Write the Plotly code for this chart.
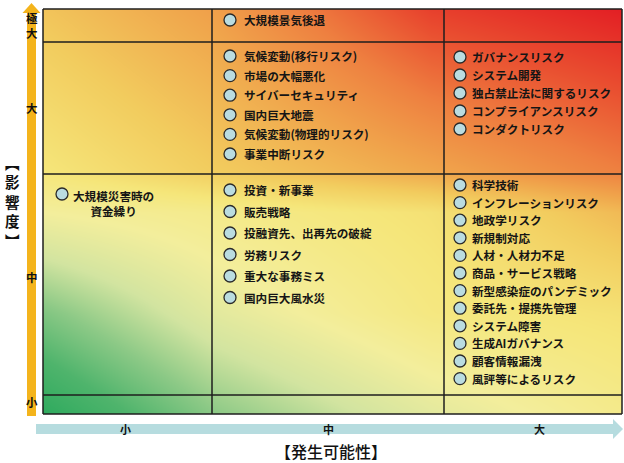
import plotly.graph_objects as go

# risk map: impact (rows) x likelihood (columns)
impact_levels = ["極大", "大", "中", "小"]
likelihood_levels = ["小", "中", "大"]

risks_extreme_mid = ["大規模景気後退"]
risks_high_mid = ["気候変動(移行リスク)", "市場の大幅悪化", "サイバーセキュリティ",
                  "国内巨大地震", "気候変動(物理的リスク)", "事業中断リスク"]
risks_high_high = ["ガバナンスリスク", "システム開発", "独占禁止法に関するリスク",
                   "コンプライアンスリスク", "コンダクトリスク"]
risks_mid_low = ["大規模災害時の<br>資金繰り"]
risks_mid_mid = ["投資・新事業", "販売戦略", "投融資先、出再先の破綻",
                 "労務リスク", "重大な事務ミス", "国内巨大風水災"]
risks_mid_high = ["科学技術", "インフレーションリスク", "地政学リスク", "新規制対応",
                  "人材・人材力不足", "商品・サービス戦略", "新型感染症のパンデミック",
                  "委託先・提携先管理", "システム障害", "生成AIガバナンス",
                  "顧客情報漏洩", "風評等によるリスク"]

# (row, col, items, first offset, spacing)
cells = [
    (0, 1, risks_extreme_mid, 11, 19),
    (1, 1, risks_high_mid, 14, 19.6),
    (1, 2, risks_high_high, 15, 18),
    (2, 0, risks_mid_low, 20, 18),
    (2, 1, risks_mid_mid, 16, 21.5),
    (2, 2, risks_mid_high, 11, 17.6),
]

W, H = 624, 463
col_edges = [43, 212, 444, 622]
row_edges = [9, 42, 174, 395, 414]
marker_dx = [19, 18, 16]
text_dx = [9, 12, 10]

# background colour field (0 green .. 0.5 yellow .. 1 red)
bg_u = [0, 0.3, 0.67, 1]
bg_v = [0, 0.25, 0.5, 0.6, 1]
bg_z = [
    [0.0, 0.2, 0.35, 0.45],
    [0.18, 0.35, 0.48, 0.52],
    [0.4, 0.45, 0.52, 0.65],
    [0.5, 0.6, 0.7, 0.8],
    [0.62, 0.72, 0.93, 1.0],
]

FONT = "Noto Sans CJK JP"


def px(x):
    return (x - col_edges[0]) / (col_edges[-1] - col_edges[0])


def py(y):
    return (row_edges[-1] - y) / (row_edges[-1] - row_edges[0])


fig = go.Figure()

gx = [col_edges[0] + u * (col_edges[-1] - col_edges[0]) for u in bg_u]
gy = [row_edges[-1] - v * (row_edges[-1] - row_edges[0]) for v in bg_v]
fig.add_trace(go.Heatmap(
    x=gx, y=gy, z=bg_z,
    zmin=0, zmax=1, zsmooth="best", showscale=False, hoverinfo="skip",
    colorscale=[[0, "#2EAA5E"], [0.1, "#4FB46C"], [0.2, "#8CC986"], [0.3, "#D2E4A0"],
                [0.4, "#F3EE9C"], [0.5, "#F5E67A"], [0.6, "#F2CC5E"], [0.7, "#F0A64C"],
                [0.8, "#EE8040"], [0.9, "#E94E30"], [1, "#E31F24"]],
))

mx, my, ann = [], [], []
for r, c, items, first, step in cells:
    for i, name in enumerate(items):
        x = col_edges[c] + marker_dx[c]
        y = row_edges[r] + first + i * step
        mx.append(x)
        my.append(y)
        n = name.count("<br>")
        ann.append(dict(x=x + text_dx[c], y=y + n * 9, text=name, xref="x", yref="y",
                        xanchor="left", yanchor="middle", showarrow=False,
                        font=dict(family=FONT, size=11.6, color="#151515", weight=700)))

fig.add_trace(go.Scatter(
    x=mx, y=my, mode="markers", hoverinfo="skip",
    marker=dict(size=12, color="#BADCE0", line=dict(color="#2A2A2A", width=1.3)),
))

shapes = []
# grid
for x in col_edges:
    shapes.append(dict(type="line", xref="paper", yref="paper", x0=px(x), x1=px(x),
                       y0=py(row_edges[0]), y1=py(row_edges[-1]),
                       line=dict(color="#1E1E1E", width=1.5)))
for y in row_edges:
    shapes.append(dict(type="line", xref="paper", yref="paper", x0=px(col_edges[0]),
                       x1=px(col_edges[-1]), y0=py(y), y1=py(y),
                       line=dict(color="#1E1E1E", width=1.5)))

# impact arrow (vertical, orange)
shapes.append(dict(type="rect", xref="paper", yref="paper", x0=px(27), x1=px(36),
                   y0=py(13), y1=py(416), fillcolor="#F4B41C", line=dict(width=0)))
shapes.append(dict(type="path", xref="paper", yref="paper",
                   path=f"M {px(22.5)},{py(13)} L {px(31.5)},{py(3)} L {px(40.5)},{py(13)} Z",
                   fillcolor="#F4B41C", line=dict(width=0)))
# likelihood arrow (horizontal, light blue)
shapes.append(dict(type="rect", xref="paper", yref="paper", x0=px(36), x1=px(613),
                   y0=py(424), y1=py(434), fillcolor="#B6DCDF", line=dict(width=0)))
shapes.append(dict(type="path", xref="paper", yref="paper",
                   path=f"M {px(613)},{py(419)} L {px(623)},{py(429)} L {px(613)},{py(439)} Z",
                   fillcolor="#B6DCDF", line=dict(width=0)))

# level labels
impact_y = [25, 108, 277, 402]
for lab, y in zip(impact_levels, impact_y):
    ann.append(dict(x=px(31.5), y=py(y), xref="paper", yref="paper", showarrow=False,
                    text="<br>".join(lab), xanchor="center", yanchor="middle",
                    font=dict(family=FONT, size=11.5, color="#111111", weight=700)))
likelihood_x = [125, 328, 539]
for lab, x in zip(likelihood_levels, likelihood_x):
    ann.append(dict(x=px(x), y=py(429), xref="paper", yref="paper", showarrow=False,
                    text=lab, xanchor="center", yanchor="middle",
                    font=dict(family=FONT, size=11, color="#111111", weight=700)))

# axis titles
ann.append(dict(x=px(331), y=py(451), xref="paper", yref="paper", showarrow=False,
                text="【発生可能性】", xanchor="center", yanchor="middle",
                font=dict(family=FONT, size=16, color="#111111", weight=500)))
for ch, y in zip("︻影響度︼", [162, 181.5, 201, 220.5, 240]):
    ann.append(dict(x=px(12), y=py(y), xref="paper", yref="paper", showarrow=False,
                    text=ch, xanchor="center", yanchor="middle", borderpad=0,
                    font=dict(family=FONT, size=14.5, color="#111111", weight=700)))

fig.update_layout(
    width=W, height=H, autosize=False,
    margin=dict(l=col_edges[0], r=W - col_edges[-1], t=row_edges[0], b=H - row_edges[-1], pad=0),
    paper_bgcolor="white", plot_bgcolor="white", showlegend=False,
    xaxis=dict(range=[col_edges[0], col_edges[-1]], visible=False, fixedrange=True),
    yaxis=dict(range=[row_edges[-1], row_edges[0]], visible=False, fixedrange=True),
    shapes=shapes, annotations=ann,
)

fig.write_html("out.html", config={"displayModeBar": False},
               post_script="document.body.style.margin='0';")
